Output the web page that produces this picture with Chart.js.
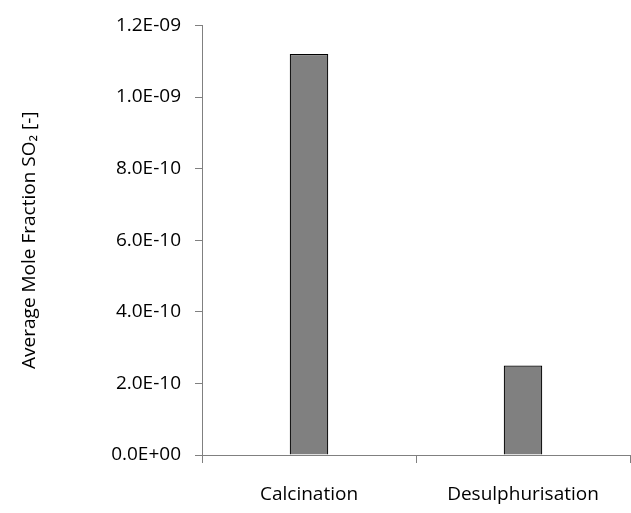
<!DOCTYPE html>
<html><head><script src="https://cdn.jsdelivr.net/npm/chart.js"></script>
<style>html,body{margin:0;padding:0;background:#fff}#w{width:631px;height:513px}</style></head>
<body><div id="w"><canvas id="c"></canvas></div>
<script>
const categories = ["Calcination", "Desulphurisation"];
const values = [1.12e-9, 2.5e-10];
const yTicks = [0, 2e-10, 4e-10, 6e-10, 8e-10, 1e-9, 1.2e-9];
function fmt(v){
  if (Math.abs(v) < 1e-20) return "0.0E+00";
  let e = Math.floor(Math.log10(Math.abs(v)) + 1e-9);
  let m = v / Math.pow(10, e);
  let s = e < 0 ? "-" : "+";
  let ea = Math.abs(e);
  return m.toFixed(1) + "E" + s + (ea < 10 ? "0" + ea : ea);
}
Chart.defaults.font.family = "'Open Sans', 'Liberation Sans', sans-serif";
Chart.defaults.font.size = 19;
Chart.defaults.color = "#000";
new Chart(document.getElementById("c"), {
  type: "bar",
  data: { labels: categories, datasets: [{ data: values, backgroundColor: "#808080", borderColor: "#000", borderWidth: 1.2, barPercentage: 0.18, categoryPercentage: 1 }] },
  options: {
    responsive: true, maintainAspectRatio: false, animation: false,
    layout: { padding: { top: 20, right: 1, bottom: 0, left: 14 } },
    plugins: { legend: { display: false }, tooltip: { enabled: false } },
    scales: {
      x: { grid: { display: true, drawOnChartArea: false, drawTicks: true, tickLength: 8, color: "#808080", offset: true },
           afterFit: a => { a.height = 58; },
           border: { color: "#808080" }, ticks: { padding: 20 } },
      y: { min: 0, max: 1.2e-9, afterBuildTicks: a => { a.ticks = yTicks.map(v => ({ value: v })); },
           afterFit: a => { a.width = 188; },
           grid: { display: true, drawOnChartArea: false, tickLength: 7, color: "#808080" },
           border: { color: "#808080" },
           ticks: { callback: v => fmt(v), padding: 14 },
           title: { display: true, text: "Average Mole Fraction SO\u2082 [-]", font: { size: 19 }, padding: { bottom: 0 } } }
    }
  }
});
</script></body></html>
